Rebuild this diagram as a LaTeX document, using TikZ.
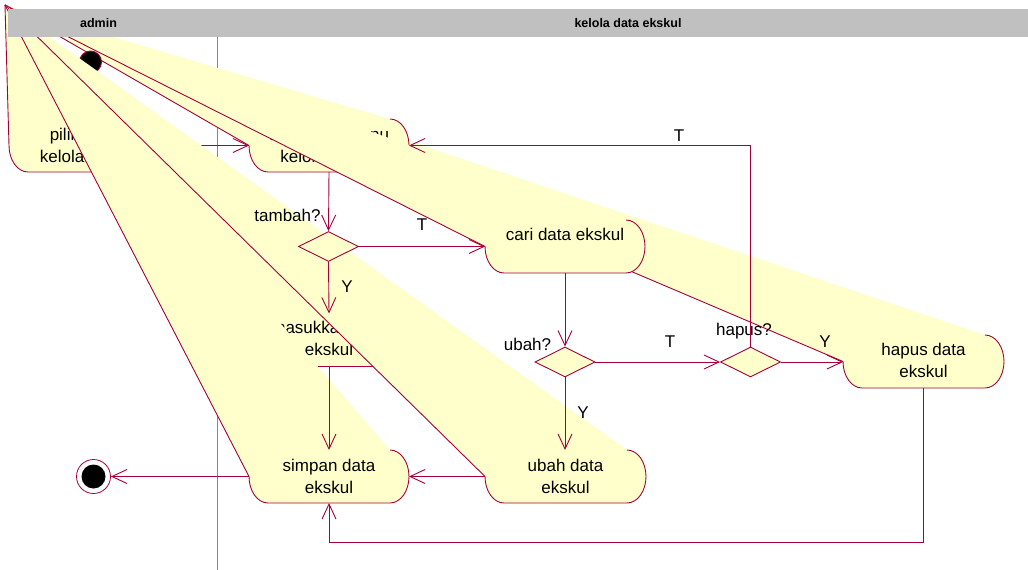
\documentclass[tikz,border=0pt]{standalone}
\usepackage{fontspec}
\setmainfont{Liberation Sans}
\usetikzlibrary{arrows.meta,shapes.geometric}
\definecolor{fillc}{RGB}{255,255,204}
\definecolor{linec}{RGB}{165,0,60}
\definecolor{divc}{RGB}{195,105,140}
\definecolor{hdrc}{RGB}{192,192,192}
% activity drawn as a ray from the origin O: L R T B
\newcommand\actray[4]{%
 \pgfmathsetmacro\ryy{(#4-#3)/2}%
 \pgfmathsetmacro\kyy{\ryy*0.448}%
 \fill[fillc] (O) -- ({#2-19},#3) .. controls ({#2-8.5},#3) and (#2,{#3+\kyy}) .. (#2,{#3+\ryy}) .. controls (#2,{#4-\kyy}) and ({#2-8.5},#4) .. ({#2-19},#4) -- ({#1+19},#4) .. controls ({#1+8.5},#4) and (#1,{#4-\kyy}) .. (#1,{#4-\ryy}) -- cycle;
 \draw[draw=linec] ({#2-19},#3) .. controls ({#2-8.5},#3) and (#2,{#3+\kyy}) .. (#2,{#3+\ryy}) .. controls (#2,{#4-\kyy}) and ({#2-8.5},#4) .. ({#2-19},#4) -- ({#1+19},#4) .. controls ({#1+8.5},#4) and (#1,{#4-\kyy}) .. (#1,{#4-\ryy}) -- (O);
}
\begin{document}
\begin{tikzpicture}[x=1pt,y=-1pt,line width=0.9pt,
 arr/.style={draw=linec,-{Straight Barb[length=15pt,width=14pt]}},
 txt/.style={font=\fontsize{17}{22}\selectfont,align=center,inner sep=0pt,text=black},
 lbl/.style={font=\fontsize{17}{20}\selectfont,inner sep=0pt,text=black},
 dec/.style={diamond,draw=linec,fill=fillc,aspect=2,minimum width=60pt,minimum height=30pt,inner sep=0pt},
 hdr/.style={font=\bfseries\fontsize{12.5}{14}\selectfont,inner sep=0pt,text=black}]
\useasboundingbox (0,0) rectangle (1028,570);
\fill[white] (0,0) rectangle (1028,570);
\coordinate (O) at (5,5);
% anchor coordinates
\coordinate (A-n) at (89,119);
\coordinate (A-e) at (168,145.5);
\coordinate (B-w) at (249,145.5);
\coordinate (B-e) at (409,145.5);
\coordinate (B-s) at (329,172);
\coordinate (M-n) at (329,313.5);
\coordinate (M-s) at (329,366.5);
\coordinate (S-n) at (329,450);
\coordinate (S-e) at (409,476.5);
\coordinate (S-w) at (249,476.5);
\coordinate (S-s) at (329,503);
\coordinate (C-w) at (485,246.5);
\coordinate (C-s) at (565,273);
\coordinate (U-n) at (565,450);
\coordinate (U-w) at (485,476.5);
\coordinate (H-w) at (843,362);
\coordinate (H-s) at (923.5,388);
\coordinate (tc) at (750.5,145.5);
\coordinate (hc1) at (923.5,542);
\coordinate (hc2) at (329,542);
\coordinate (dv1) at (217.7,36);
\coordinate (dv2) at (217.7,570);
% swimlane divider
\draw[divc] (dv1) -- (dv2);
% hapus data
\actray{843}{1004}{335}{388}
\node[txt] (tH) at (923.5,360) {hapus data\\ekskul};
% pilih menu
\actray{9}{168}{119}{172}
\node[txt] (tA) at (88.5,145) {pilih menu\\kelola ekskul};
% tampilkan
\actray{249}{409}{119}{172}
\node[txt] (tB) at (329,145) {tampilkan menu\\kelola ekskul};
% initial state
\node[circle,fill=black,draw=linec,minimum size=22pt,inner sep=0pt] (ini) at (90.5,62) {};
\draw[arr] (ini) -- (A-n);
\draw[arr] (A-e) -- (B-w);
% masukkan
\actray{249}{409}{313.5}{366.5}
\node[txt] (tM) at (329,338) {masukkan data\\ekskul};
% ubah data
\actray{485}{646}{450}{503}
\node[txt] (tU) at (565.5,476) {ubah data\\ekskul};
% simpan
\actray{249}{409}{450}{503}
\node[txt] (tS) at (329,476) {simpan data\\ekskul};
% cari
\actray{485}{645}{220}{273}
\node[txt] (tC) at (565,234) {cari data ekskul};
% decisions
\node[dec] (dT) at (328.5,246.5) {};
\node[dec] (dU) at (565,362) {};
\node[dec] (dH) at (750.5,362) {};
\node[lbl] (lT) at (287.5,215) {tambah?};
\node[lbl] (lU) at (527.5,344) {ubah?};
\node[lbl] (lH) at (744,331) {hapus?};
% transitions
\draw[arr] (B-s) -- (dT.north);
\draw[arr] (dT.south) -- (M-n);
\draw[arr] (dT.east) -- (C-w);
\draw[arr] (C-s) -- (dU.north);
\draw[arr] (dU.east) -- (dH.west);
\draw[arr] (dU.south) -- (U-n);
\draw[arr] (dH.east) -- (H-w);
\draw[arr] (dH.north) -- (tc) -- (B-e);
\draw[arr] (M-s) -- (S-n);
\draw[arr] (U-w) -- (S-e);
\draw[arr] (H-s) -- (hc1) -- (hc2) -- (S-s);
% final state
\node[circle,draw=linec,line width=0.8pt,minimum size=34pt,inner sep=0pt] (fin) at (93.5,476.5) {};
\fill[black] (fin.center) circle (12);
\draw[arr] (S-w) -- (fin);
% guard labels
\node[lbl] (g1) at (422,225) {T};
\node[lbl] (g2) at (347,287) {Y};
\node[lbl] (g3) at (670,342) {T};
\node[lbl] (g4) at (825,341.5) {Y};
\node[lbl] (g5) at (583,412.5) {Y};
\node[lbl] (g6) at (679,136) {T};
% header
\fill[hdrc] (8,9) rectangle (1028,36.5);
\node[hdr] (h1) at (98.5,23) {admin};
\node[hdr] (h2) at (628,23) {kelola data ekskul};
\end{tikzpicture}
\end{document}
